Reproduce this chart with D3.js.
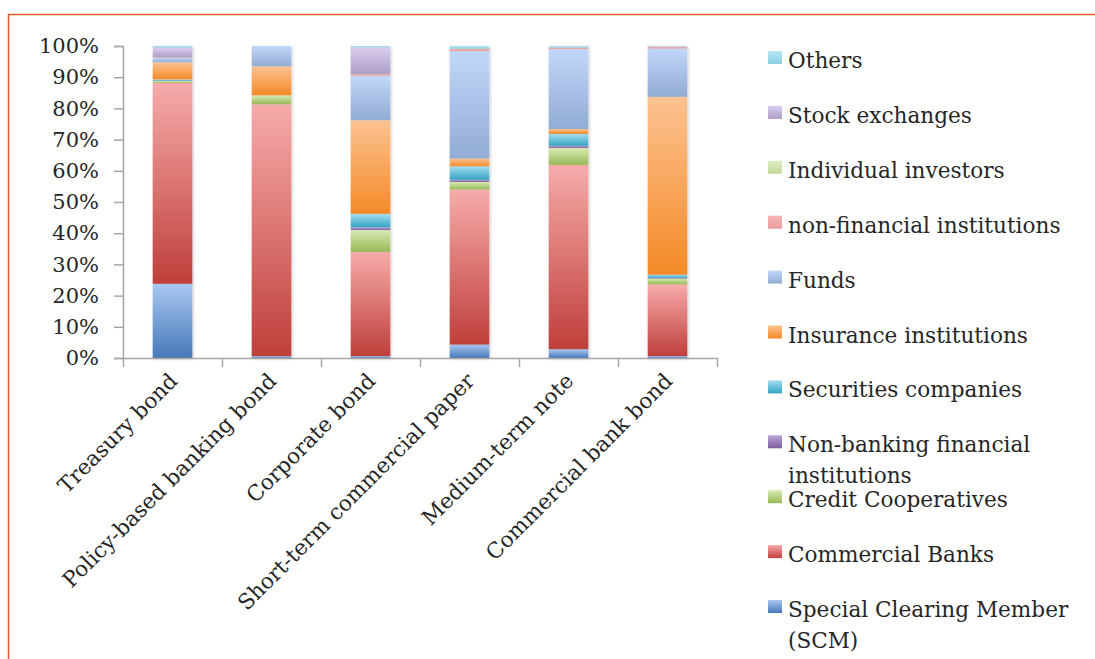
<!DOCTYPE html>
<html>
<head>
<meta charset="utf-8">
<script src="https://cdn.jsdelivr.net/npm/d3@7"></script>
<style>
    body { margin: 0; background: #fff; }
    svg { display: block; }
    text { font-family: "DejaVu Serif", serif; fill: #262626; }
</style>
</head>
<body>
<svg id="chart" width="1095" height="659"></svg>
<script>
/*jslint browser: true */
/*global d3 */

var categories = [
    "Treasury bond",
    "Policy-based banking bond",
    "Corporate bond",
    "Short-term commercial paper",
    "Medium-term note",
    "Commercial bank bond"
];

// stacked bottom to top, shares in percent
var seriesNames = [
    "Special Clearing Member (SCM)",
    "Commercial Banks",
    "Credit Cooperatives",
    "Non-banking financial institutions",
    "Securities companies",
    "Insurance institutions",
    "Funds",
    "non-financial institutions",
    "Individual investors",
    "Stock exchanges",
    "Others"
];
var scm = [23.8, 0.6, 0.6, 4.3, 2.8, 0.6];
var commercialBanks = [64.4, 80.7, 33.4, 49.7, 59.1, 23.0];
var creditCoops = [0.6, 2.9, 7.0, 2.4, 5.4, 1.9];
var nonBanking = [0.1, 0, 0.9, 0.7, 0.7, 0.2];
var securities = [0.4, 0, 4.3, 4.3, 3.8, 1.0];
var insurance = [5.5, 9.3, 30.0, 2.5, 1.6, 57.0];
var funds = [1.3, 6.5, 14.3, 34.4, 25.6, 15.5];
var nonFinancial = [0.1, 0, 0.5, 0.75, 0.5, 0.6];
var individuals = [0.1, 0, 0, 0, 0, 0];
var stockExchanges = [3.2, 0, 8.6, 0, 0, 0];
var others = [0.5, 0, 0.4, 0.9, 0.5, 0.2];

var seriesValues = [
    scm, commercialBanks, creditCoops, nonBanking, securities, insurance,
    funds, nonFinancial, individuals, stockExchanges, others
];

// legend text, split where the original wraps
var legendLines = [
    ["Special Clearing Member", "(SCM)"],
    ["Commercial Banks"],
    ["Credit Cooperatives"],
    ["Non-banking financial", "institutions"],
    ["Securities companies"],
    ["Insurance institutions"],
    ["Funds"],
    ["non-financial institutions"],
    ["Individual investors"],
    ["Stock exchanges"],
    ["Others"]
];

var yTicks = [0, 0.1, 0.2, 0.3, 0.4, 0.5, 0.6, 0.7, 0.8, 0.9, 1];

// gradient stops, light top to dark bottom
var gradients = [
    ["#a9c7f2", "#4679b8"],
    ["#f6abaa", "#bf3f3b"],
    ["#d9eab4", "#98b956"],
    ["#bba6d8", "#7b5d9e"],
    ["#a4def0", "#35a3c2"],
    ["#fcc291", "#f48a28"],
    ["#c1d7fa", "#93acd5"],
    ["#f6b4b2", "#e89c9a"],
    ["#deedc2", "#c2d898"],
    ["#dacdee", "#ae9fc6"],
    ["#b8e7f4", "#8bcfe1"]
];

var svg = d3.select("#chart");
var defs = svg.append("defs");

gradients.forEach(function (g, i) {
    var lg = defs.append("linearGradient")
        .attr("id", "grad" + i)
        .attr("x1", 0).attr("y1", 0)
        .attr("x2", 0).attr("y2", 1);
    lg.append("stop").attr("offset", "0%").attr("stop-color", g[0]);
    lg.append("stop").attr("offset", "100%").attr("stop-color", g[1]);
});

defs.append("filter")
    .attr("id", "shadow")
    .attr("x", "-20%").attr("y", "-5%")
    .attr("width", "140%").attr("height", "110%")
    .append("feDropShadow")
    .attr("dx", 1).attr("dy", 1)
    .attr("stdDeviation", 1.5)
    .attr("flood-color", "#000")
    .attr("flood-opacity", 0.22);

// orange frame, open to the right and bottom
svg.append("rect")
    .attr("x", 8.5).attr("y", 14.5)
    .attr("width", 1200).attr("height", 800)
    .attr("fill", "none")
    .attr("stroke", "#e2592a")
    .attr("stroke-width", 1.5);

var plot = {left: 123, right: 717, top: 46, bottom: 358};

var x = d3.scaleBand()
    .domain(categories)
    .range([plot.left, plot.right])
    .paddingInner(0.6)
    .paddingOuter(0.3);

var xEdges = d3.scaleLinear()
    .domain([0, categories.length])
    .range([plot.left, plot.right]);

var y = d3.scaleLinear()
    .domain([0, 1])
    .range([plot.bottom, plot.top]);

var table = categories.map(function (c, i) {
    var row = {category: c};
    seriesNames.forEach(function (s, k) {
        row[s] = seriesValues[k][i];
    });
    return row;
});

var stacked = d3.stack()
    .keys(seriesNames)
    .offset(d3.stackOffsetExpand)(table);

// bars, one group per category so the shadow falls per column
var barGroups = svg.append("g").selectAll("g")
    .data(categories)
    .join("g")
    .attr("filter", "url(#shadow)");

barGroups.selectAll("rect")
    .data(function (c, i) {
        return stacked.map(function (layer, k) {
            return {k: k, y0: layer[i][0], y1: layer[i][1], c: c};
        }).filter(function (d) {
            return d.y1 > d.y0;
        });
    })
    .join("rect")
    .attr("x", function (d) {
        return x(d.c);
    })
    .attr("width", x.bandwidth())
    .attr("y", function (d) {
        return y(d.y1);
    })
    .attr("height", function (d) {
        return y(d.y0) - y(d.y1);
    })
    .attr("fill", function (d) {
        return "url(#grad" + d.k + ")";
    });

// axes
var yAxis = d3.axisLeft(y)
    .tickValues(yTicks)
    .tickFormat(d3.format(".0%"))
    .tickSize(9)
    .tickPadding(15);

var yAxisGroup = svg.append("g")
    .attr("transform", "translate(" + plot.left + ",0)")
    .call(yAxis);

var xAxis = d3.axisBottom(xEdges)
    .ticks(categories.length)
    .tickFormat("")
    .tickSize(9)
    .tickSizeOuter(0);

var xAxisGroup = svg.append("g")
    .attr("transform", "translate(0," + plot.bottom + ")")
    .call(xAxis);

[yAxisGroup, xAxisGroup].forEach(function (g) {
    g.select(".domain").attr("stroke", "#a6a6a6").attr("stroke-width", 1.5);
    g.selectAll(".tick line")
        .attr("stroke", "#a6a6a6")
        .attr("stroke-width", 1.5);
});

yAxisGroup.selectAll(".tick text")
    .attr("font-size", 21)
    .attr("font-family", "DejaVu Serif")
    .attr("fill", "#262626");

// rotated category labels
svg.append("g").selectAll("text")
    .data(categories)
    .join("text")
    .attr("transform", function (c) {
        var cx = x(c) + x.bandwidth() / 2;
        return "translate(" + (cx + 1) + "," + (plot.bottom + 19) +
                ") rotate(-45)";
    })
    .attr("text-anchor", "end")
    .attr("dy", "0.35em")
    .attr("font-size", 21.5)
    .text(function (c) {
        return c;
    });

// legend, top to bottom is the reverse of the stack
var legend = {swatchX: 768, textX: 788, firstBaseline: 68, step: 54.9};
var legendOrder = d3.range(seriesNames.length).reverse();

var legendItems = svg.append("g").selectAll("g")
    .data(legendOrder)
    .join("g")
    .attr("transform", function (k, j) {
        return "translate(0," + (legend.firstBaseline + j * legend.step) +
                ")";
    });

legendItems.append("rect")
    .attr("x", legend.swatchX)
    .attr("y", -17)
    .attr("width", 14)
    .attr("height", 13)
    .attr("fill", function (k) {
        return "url(#grad" + k + ")";
    });

legendItems.append("text")
    .attr("font-size", 21.6)
    .selectAll("tspan")
    .data(function (k) {
        return legendLines[k];
    })
    .join("tspan")
    .attr("x", legend.textX)
    .attr("y", function (d, i) {
        return i * 31;
    })
    .text(function (d) {
        return d;
    });
</script>
</body>
</html>
